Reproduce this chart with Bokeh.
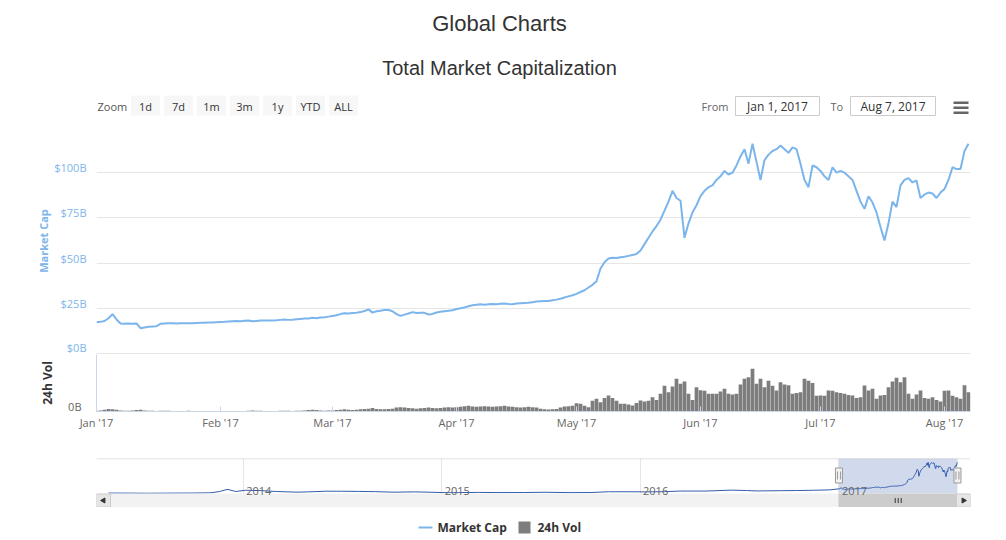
import math
import numpy as np
import pandas as pd
from bokeh.plotting import figure
from bokeh.layouts import column
from bokeh.models import Range1d, FixedTicker, Span
from bokeh.core.properties import value
from bokeh.embed import file_html
from bokeh.resources import INLINE

# ------------------------------------------------------------------ data
title_text = "Global Charts"
subtitle_text = "Total Market Capitalization"
range_buttons = ["1d", "7d", "1m", "3m", "1y", "YTD", "ALL"]
zoom_text = "Zoom"
from_label, to_label = "From", "To"
from_text = "Jan 1, 2017"
to_text = "Aug 7, 2017"
series_names = ["Market Cap", "24h Vol"]

first_day = "2017-01-01"
# total market capitalisation, $ billions, one value per day
mcap_jan = [17.3, 17.5, 18.0, 19.5, 21.8, 18.8, 16.6, 16.4, 16.6, 16.5,
            16.6, 14.0, 14.4, 14.8, 15.0, 15.1, 16.4, 16.6, 16.8, 16.7,
            16.6, 16.7, 16.8, 16.7, 16.8, 16.9, 17.0, 17.0, 17.1, 17.2, 17.3]
mcap_feb = [17.4, 17.5, 17.7, 17.9, 18.0, 17.9, 18.1, 18.2, 17.8, 18.0,
            18.2, 18.3, 18.2, 18.3, 18.4, 18.6, 18.8, 18.6, 18.7, 18.9,
            19.1, 19.3, 19.4, 19.8, 19.5, 19.9, 20.1, 20.4]
mcap_mar = [20.8, 21.2, 21.8, 22.3, 22.1, 22.4, 22.6, 22.9, 23.5, 24.4,
            22.6, 23.4, 23.7, 24.0, 24.1, 23.4, 21.8, 20.8, 21.5, 22.1,
            22.9, 22.4, 22.6, 22.5, 21.6, 21.9, 22.7, 23.1, 23.4, 23.6, 23.9]
mcap_apr = [24.6, 25.0, 25.5, 26.1, 26.7, 27.0, 27.2, 27.0, 27.2, 27.4,
            27.3, 27.5, 27.6, 27.4, 27.3, 27.6, 27.8, 28.0, 28.1, 28.4,
            28.7, 28.9, 29.1, 29.0, 29.4, 29.8, 30.3, 31.0, 31.6, 32.2]
mcap_may = [33.0, 34.0, 35.0, 36.5, 38.0, 40.0, 47.0, 50.5, 52.5, 53.0,
            52.8, 53.2, 53.5, 54.0, 54.5, 55.0, 57.0, 60.5, 64.0, 67.5,
            70.5, 74.0, 79.0, 84.0, 90.0, 86.0, 84.5, 64.0, 72.0, 78.0, 82.0]
mcap_jun = [87.0, 90.0, 92.0, 93.0, 96.0, 98.0, 101.0, 99.0, 100.0, 104.0,
            109.0, 113.0, 105.0, 116.0, 106.0, 96.0, 107.0, 110.0, 112.0, 113.0,
            115.0, 113.0, 111.0, 114.0, 113.0, 105.0, 96.0, 92.0, 104.0, 103.0]
mcap_jul = [101.0, 98.0, 96.0, 103.0, 100.0, 101.0, 100.0, 98.0, 96.0, 90.0,
            84.0, 80.0, 87.0, 83.5, 78.0, 70.0, 62.5, 72.0, 84.0, 81.0,
            93.0, 96.0, 97.0, 94.6, 95.7, 86.0, 88.0, 89.0, 88.5, 86.0, 89.0]
mcap_aug = [91.0, 96.0, 103.0, 102.0, 102.0, 112.0, 116.0]

# 24h volume, $ billions, one value per day
vol_jan = [0.10, 0.15, 0.25, 0.35, 0.30, 0.25, 0.15, 0.10, 0.10, 0.15,
           0.20, 0.25, 0.15, 0.10, 0.10, 0.08, 0.10, 0.12, 0.10, 0.08,
           0.07, 0.08, 0.08, 0.10, 0.07, 0.06, 0.06, 0.06, 0.05, 0.06, 0.08]
vol_feb = [0.06, 0.07, 0.08, 0.07, 0.06, 0.06, 0.07, 0.10, 0.15, 0.12,
           0.10, 0.08, 0.07, 0.08, 0.07, 0.10, 0.12, 0.10, 0.08, 0.10,
           0.12, 0.15, 0.20, 0.25, 0.20, 0.15, 0.12, 0.15]
vol_mar = [0.15, 0.20, 0.25, 0.30, 0.25, 0.20, 0.25, 0.30, 0.35, 0.40,
           0.50, 0.35, 0.30, 0.30, 0.35, 0.40, 0.55, 0.60, 0.55, 0.50,
           0.45, 0.40, 0.45, 0.50, 0.55, 0.50, 0.45, 0.50, 0.55, 0.60, 0.55]
vol_apr = [0.60, 0.65, 0.75, 0.80, 0.70, 0.65, 0.70, 0.75, 0.70, 0.65,
           0.70, 0.75, 0.80, 0.70, 0.65, 0.60, 0.55, 0.60, 0.65, 0.60,
           0.55, 0.40, 0.30, 0.28, 0.30, 0.35, 0.55, 0.70, 0.75, 0.80]
vol_may = [1.17, 1.10, 0.80, 0.60, 1.50, 1.80, 1.30, 1.90, 2.25, 1.90,
           1.50, 1.10, 1.10, 1.00, 0.84, 1.20, 1.54, 1.40, 1.50, 2.00,
           1.60, 2.50, 3.60, 2.70, 3.50, 4.60, 3.90, 4.20, 2.50, 1.60, 3.40]
vol_jun = [3.00, 2.90, 2.50, 2.50, 2.50, 2.80, 3.20, 2.50, 2.40, 2.50,
           3.80, 4.60, 4.80, 6.00, 3.90, 4.60, 3.40, 4.30, 3.60, 2.95,
           4.10, 3.80, 3.70, 2.50, 2.60, 2.70, 4.60, 4.30, 4.00, 2.20]
vol_jul = [2.25, 2.20, 2.95, 2.90, 2.70, 2.60, 2.48, 2.30, 2.25, 1.90,
           2.00, 3.65, 2.95, 3.20, 1.78, 2.25, 2.30, 3.40, 4.20, 4.73,
           4.10, 4.82, 2.48, 1.78, 2.40, 2.95, 1.90, 1.78, 2.00, 1.60, 1.40]
vol_aug = [2.90, 2.95, 2.20, 2.00, 1.78, 3.70, 2.70]

market_cap = mcap_jan + mcap_feb + mcap_mar + mcap_apr + mcap_may + mcap_jun + mcap_jul + mcap_aug
volume = vol_jan + vol_feb + vol_mar + vol_apr + vol_may + vol_jun + vol_jul + vol_aug
dates = pd.date_range(first_day, periods=len(market_cap), freq="D")

month_starts = ["2017-01-01", "2017-02-01", "2017-03-01", "2017-04-01",
                "2017-05-01", "2017-06-01", "2017-07-01", "2017-08-01"]
month_labels = ["Jan '17", "Feb '17", "Mar '17", "Apr '17",
                "May '17", "Jun '17", "Jul '17", "Aug '17"]

mcap_ticks = [0, 25, 50, 75, 100, 125]
mcap_tick_labels = ["$0B", "$25B", "$50B", "$75B", "$100B", ""]
vol_ticks = [0]
vol_tick_labels = ["0B"]

# navigator: full history before 2017 (market cap, $ billions)
nav_hist_dates = ["2013-04-28", "2013-06-01", "2013-07-05", "2013-08-01", "2013-09-01",
                  "2013-10-01", "2013-11-01", "2013-11-18", "2013-11-30", "2013-12-04",
                  "2013-12-18", "2014-01-05", "2014-02-01", "2014-03-01", "2014-04-10",
                  "2014-05-01", "2014-06-01", "2014-07-01", "2014-08-01", "2014-09-01",
                  "2014-10-05", "2014-11-12", "2014-12-01", "2015-01-14", "2015-02-01",
                  "2015-03-10", "2015-04-15", "2015-06-01", "2015-07-10", "2015-08-25",
                  "2015-10-01", "2015-11-04", "2015-12-15", "2016-01-15", "2016-02-15",
                  "2016-03-15", "2016-05-01", "2016-06-17", "2016-07-15", "2016-08-03",
                  "2016-09-15", "2016-10-15", "2016-11-15", "2016-12-15"]
nav_hist_values = [1.58, 1.45, 0.95, 1.2, 1.6, 1.7, 2.6, 7.0, 14.0, 15.0, 7.5,
                   12.0, 11.0, 7.5, 5.0, 6.0, 8.5, 8.3, 7.8, 6.8, 4.9, 6.0, 5.2,
                   2.8, 3.3, 4.1, 3.4, 3.6, 4.6, 3.3, 3.5, 6.5, 6.5,
                   6.0, 6.7, 9.0, 9.0, 12.5, 11.0, 9.5, 10.5, 11.0, 12.0, 13.5]
nav_years = ["2014", "2015", "2016", "2017"]

# ------------------------------------------------------------------ style / layout
W = 1000
FX0, FX1 = 96, 970          # plot frame, page pixels
BL, BR = FX0, W - FX1
FW = FX1 - FX0
FONT = "Open Sans"
TFONT = "Liberation Sans"
MC = "#7cb5ec"
VC = "#7d7d7d"
GRID = "#e6e6e6"
AXIS = "#ccd6eb"
DAY = 86400000.0


def ms(t):
    return pd.Timestamp(t).timestamp() * 1000.0


def base_fig(height, **kw):
    f = figure(width=W, height=height, output_backend="svg", toolbar_location=None,
               min_border_left=BL, min_border_right=BR, **kw)
    f.outline_line_color = None
    f.background_fill_color = "white"
    f.border_fill_color = "white"
    return f


# ---------------- header (titles, range selector, inputs, menu) - page pixel coords
hdr = base_fig(127, x_range=Range1d(FX0, FX1), y_range=Range1d(127, 0),
               x_axis_type=None, y_axis_type=None, min_border_top=0, min_border_bottom=0)
hdr.text(x=[499], y=[23], text=[title_text], text_font=value(TFONT),
         text_font_size=value("22px"), text_color="#333333",
         text_align="center", text_baseline="middle")
hdr.text(x=[499], y=[67], text=[subtitle_text], text_font=value(TFONT),
         text_font_size=value("20px"), text_color="#333333",
         text_align="center", text_baseline="middle")
hdr.text(x=[97], y=[105.5], text=[zoom_text], text_font=value(FONT),
         text_font_size=value("11px"), text_color="#555555",
         text_align="left", text_baseline="middle")
bx = [145 + 33 * i for i in range(len(range_buttons))]
hdr.rect(x=bx, y=[105] * len(bx), width=29, height=20, height_units="screen",
         fill_color="#f7f7f7", line_color=None)
hdr.text(x=bx, y=[105.5] * len(bx), text=range_buttons, text_font=value(FONT),
         text_font_size=value("11px"), text_color="#333333",
         text_align="center", text_baseline="middle")
hdr.text(x=[701, 830], y=[105.5, 105.5], text=[from_label, to_label], text_font=value(FONT),
         text_font_size=value("11px"), text_color="#666666",
         text_align="left", text_baseline="middle")
hdr.rect(x=[777, 892.5], y=[105.5, 105.5], width=[84, 85], height=19, height_units="screen",
         fill_color="white", line_color="#cccccc", line_width=1)
hdr.text(x=[777, 892.5], y=[106, 106], text=[from_text, to_text], text_font=value(FONT),
         text_font_size=value("12px"), text_color="#333333",
         text_align="center", text_baseline="middle")
hdr.rect(x=[960.5] * 3, y=[102.2, 107.2, 112.2], width=15, height=2.4, height_units="screen",
         fill_color="#666666", line_color=None)

# ---------------- main market-cap panel
x_range = Range1d(ms(first_day), ms(first_day) + 218.5 * DAY)
main = base_fig(227, x_range=x_range, y_range=Range1d(-0.55, 125),
                x_axis_type="datetime", x_axis_location=None,
                min_border_top=0, min_border_bottom=0)
main.xgrid.visible = False
main.ygrid.ticker = FixedTicker(ticks=mcap_ticks)
main.ygrid.grid_line_color = GRID
lab_off = 5 * (125.55 / 227)  # labels sit just above their grid line
main.yaxis.ticker = FixedTicker(ticks=[t + lab_off for t, s in zip(mcap_ticks, mcap_tick_labels) if s])
main.yaxis.major_label_overrides = {t + lab_off: s for t, s in zip(mcap_ticks, mcap_tick_labels) if s}
main.yaxis.axis_line_color = None
main.yaxis.major_tick_line_color = None
main.yaxis.minor_tick_line_color = None
main.yaxis.major_label_text_font = FONT
main.yaxis.major_label_text_font_size = "11px"
main.yaxis.major_label_text_color = MC
main.yaxis.major_label_standoff = 4
main.yaxis.axis_label = series_names[0]
main.yaxis.axis_label_text_font = FONT
main.yaxis.axis_label_text_font_size = "11px"
main.yaxis.axis_label_text_font_style = "bold"
main.yaxis.axis_label_text_color = MC
main.yaxis.axis_label_standoff = 0
main.line(x=dates, y=market_cap, line_color=MC, line_width=2)

# ---------------- volume panel
vol = base_fig(97, x_range=x_range, y_range=Range1d(0, 8), x_axis_type="datetime",
               min_border_top=0, min_border_bottom=40)
vol.vbar(x=dates, top=volume, width=0.93 * DAY, fill_color=VC, line_color=None)
vol.xgrid.visible = False
vol.ygrid.ticker = FixedTicker(ticks=[8])
vol.ygrid.grid_line_color = GRID
voff = 5 * 8 / 57
vol.yaxis.ticker = FixedTicker(ticks=[t + voff for t in vol_ticks])
vol.yaxis.major_label_overrides = {t + voff: s for t, s in zip(vol_ticks, vol_tick_labels)}
vol.yaxis.axis_line_color = AXIS
vol.yaxis.major_tick_line_color = None
vol.yaxis.minor_tick_line_color = None
vol.yaxis.major_label_text_font = FONT
vol.yaxis.major_label_text_font_size = "11px"
vol.yaxis.major_label_text_color = "#666666"
vol.yaxis.major_label_standoff = 9
vol.yaxis.axis_label = series_names[1]
vol.yaxis.axis_label_text_font = FONT
vol.yaxis.axis_label_text_font_size = "12px"
vol.yaxis.axis_label_text_font_style = "bold"
vol.yaxis.axis_label_text_color = "#333333"
vol.yaxis.axis_label_standoff = 9
month_ms = [ms(m) for m in month_starts]
vol.xaxis.ticker = FixedTicker(ticks=month_ms)
vol.xaxis.major_label_overrides = dict(zip(month_ms, month_labels))
vol.xaxis.axis_line_color = AXIS
vol.xaxis.major_tick_line_color = AXIS
vol.xaxis.major_tick_in = 5
vol.xaxis.major_tick_out = 0
vol.xaxis.minor_tick_line_color = None
vol.xaxis.major_label_text_font = FONT
vol.xaxis.major_label_text_font_size = "11px"
vol.xaxis.major_label_text_color = "#666666"
vol.xaxis.major_label_standoff = 3

# ---------------- navigator + scrollbar (one frame: 458..507 page px)
nav_start, nav_end = ms("2013-04-06"), ms("2017-08-31")
nav_x = Range1d(nav_start, nav_end)
pxn = (nav_end - nav_start) / FW          # ms per pixel
s = 130 / 35                              # value units per pixel
nav = base_fig(56, x_range=nav_x, y_range=Range1d(-14 * s, 130), x_axis_type="datetime",
               x_axis_location=None, y_axis_location=None,
               min_border_top=7, min_border_bottom=0)
nav.ygrid.visible = False
year_ms = [ms(y + "-01-01") for y in nav_years]
nav.xgrid.ticker = FixedTicker(ticks=year_ms)
nav.xgrid.grid_line_color = GRID
sel_l, sel_r = ms(dates[0]), ms(dates[-1])
nav.quad(left=[sel_l], right=[sel_r], bottom=[0], top=[140],
         fill_color="#6685c2", fill_alpha=0.3, line_color=None)
nav_x_data = list(pd.to_datetime(nav_hist_dates)) + list(dates)
nav_y_data = nav_hist_values + market_cap
nav.line(x=nav_x_data, y=nav_y_data, line_color="#335cad", line_width=1)
nav.add_layout(Span(location=129.3, dimension="width", line_color="#cccccc", line_width=1))

# scrollbar
sb_b, sb_t = -13.5 * s, -0.5 * s
nav.quad(left=[nav_start], right=[nav_end], bottom=[sb_b], top=[sb_t],
         fill_color="#f2f2f2", line_color="#f2f2f2")
nav.quad(left=[sel_l], right=[sel_r], bottom=[sb_b], top=[sb_t],
         fill_color="#cccccc", line_color="#cccccc")
nav.quad(left=[nav_start, nav_end - 14 * pxn], right=[nav_start + 14 * pxn, nav_end],
         bottom=[sb_b, sb_b], top=[sb_t, sb_t], fill_color="#e6e6e6", line_color="#cccccc")
nav.scatter(x=[nav_start + 7 * pxn, nav_end - 7 * pxn], y=[-7 * s, -7 * s], marker="triangle", size=5,
            angle=[math.pi / 2, -math.pi / 2], fill_color="#333333", line_color="#333333")
cx = (sel_l + sel_r) / 2
rx = [cx - 3 * pxn, cx, cx + 3 * pxn]
nav.segment(x0=rx, x1=rx, y0=[-9.5 * s] * 3, y1=[-4.5 * s] * 3, line_color="#333333", line_width=1)

# year labels and selection handles on top
nav.text(x=year_ms, y=[0] * len(year_ms), text=nav_years, x_offset=3, y_offset=-3,
         text_font=value(FONT), text_font_size=value("11px"), text_color="#666666",
         text_align="left", text_baseline="alphabetic")
hy = (493 - 475) * s
nav.rect(x=[sel_l, sel_r], y=[hy, hy], width=7, height=15,
         width_units="screen", height_units="screen",
         fill_color="#f2f2f2", line_color="#999999")
hx = [sel_l - 1.5 * pxn, sel_l + 1.5 * pxn, sel_r - 1.5 * pxn, sel_r + 1.5 * pxn]
nav.segment(x0=hx, x1=hx, y0=[hy - 4 * s] * 4, y1=[hy + 4 * s] * 4, line_color="#999999", line_width=1)

# ---------------- legend - page pixel coords
leg = base_fig(30, x_range=Range1d(FX0, FX1), y_range=Range1d(537, 507),
               x_axis_type=None, y_axis_type=None, min_border_top=0, min_border_bottom=0)
leg.segment(x0=[418], y0=[527], x1=[432], y1=[527], line_color=MC, line_width=2)
leg.rect(x=[524], y=[527], width=12, height=12, height_units="screen",
         fill_color=VC, line_color=None)
leg.text(x=[437, 537], y=[527, 527], text=series_names, text_font=value(FONT),
         text_font_size=value("12px"), text_font_style="bold", text_color="#333333",
         text_align="left", text_baseline="middle")

layout = column(hdr, main, vol, nav, leg, spacing=0)
open("out.html", "w").write(file_html(layout, INLINE))
